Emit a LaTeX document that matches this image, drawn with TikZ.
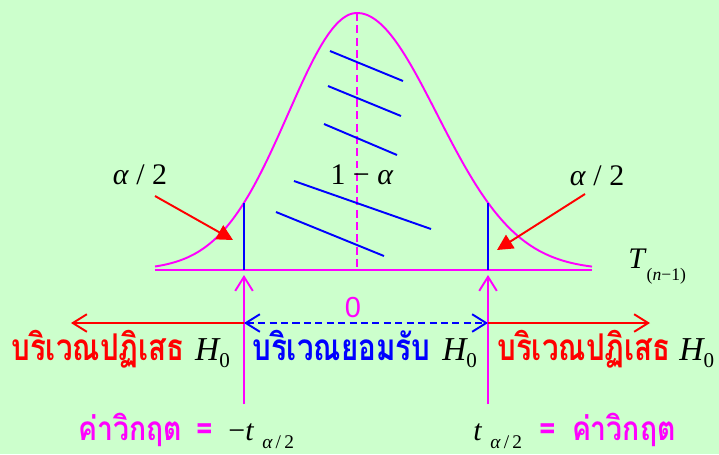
\documentclass[tikz,border=0pt]{standalone}
\usepackage{fontspec}
\setmainfont{Liberation Serif}
\newfontfamily\thaifont[Script=Thai, FakeStretch=0.8]{Loma}
\newfontfamily\thaiwide[Script=Thai, FakeStretch=0.85]{Loma}
\newfontfamily\zerofont{Liberation Sans}
\usetikzlibrary{arrows.meta,positioning}
\definecolor{bggreen}{RGB}{204,255,204}
\definecolor{mag}{RGB}{255,0,255}
\newcommand{\hnull}{{\color{black}\rmfamily\mdseries\fontsize{19}{22}\selectfont\itshape H\raisebox{-4pt}{\upshape\fontsize{12}{12}\selectfont 0}}}
\newcommand{\tcrit}{{\color{black}\rmfamily\mdseries\fontsize{17}{20}\selectfont\itshape t\hspace{5pt}\raisebox{-5pt}{\fontsize{11}{11}\selectfont α\,\upshape/\,2}}}

\begin{document}
\begin{tikzpicture}[
  x=0.02cm, y=-0.02cm,
  curve/.style={mag, line width=1.1pt},
  hatch/.style={blue, line width=1.1pt},
  barb/.style={-{Straight Barb[length=8pt,width=10pt]}, line width=1.1pt},
  both/.style={{Straight Barb[length=8pt,width=10pt]}-{Straight Barb[length=8pt,width=10pt]}, line width=1.1pt},
  fat/.style={red, line width=1.1pt, -{Triangle[length=9pt,width=9pt]}},
  thai/.style={font=\thaifont\bfseries\fontsize{21}{24}\selectfont, inner sep=0pt, anchor=base west},
  crit/.style={font=\thaiwide\bfseries\fontsize{19}{22}\selectfont, text=mag, inner sep=0pt, anchor=base west},
  lbl/.style={font=\fontsize{17}{20}\selectfont, inner sep=0pt}
]
  \fill[bggreen] (0,0) rectangle (719,454);
  \useasboundingbox (0,0) rectangle (719,454);

  \coordinate (peak) at (357,13);
  \coordinate (mid) at (357,270);
  \coordinate (tl) at (244,270);
  \coordinate (tr) at (488,270);
  \coordinate (tltop) at (244,203);
  \coordinate (trtop) at (488,203);

  \draw[curve] plot[domain=155:357, samples=50, smooth] (\x, {270-257*exp(-0.5*((\x-357)/69)^2)})
    -- plot[domain=357:592, samples=50, smooth] (\x, {270-257*exp(-0.5*((\x-357)/80)^2)});
  \draw[curve] (155,270) -- (592,270);
  \draw[curve, dash pattern=on 4.5pt off 2.5pt] (peak) -- (mid);

  \draw[hatch] (tl) -- (tltop);
  \draw[hatch] (tr) -- (trtop);
  \draw[hatch] (330,51) -- (403,81);
  \draw[hatch] (328,86) -- (401,116);
  \draw[hatch] (324,124) -- (397,155);
  \draw[hatch] (294,181) -- (431,229);
  \draw[hatch] (276,212) -- (384,256);

  \node[lbl] (oneminus) at (362,175) {1 − \textit{α}};
  \node[lbl] (halfl) at (140,175) {\textit{α} / 2};
  \node[lbl] (halfr) at (597,176) {\textit{α} / 2};
  \node[lbl, anchor=base west] (tdist) at (628,268)
    {\textit{T}\raisebox{-7pt}{\fontsize{10}{10}\selectfont(\textit{n}−1)}};

  \coordinate (al1) at (155,196);
  \coordinate (al2) at (233,240);
  \coordinate (ar1) at (585,194);
  \coordinate (ar2) at (497,250);
  \draw[fat] (al1) -- (al2);
  \draw[fat] (ar1) -- (ar2);

  \coordinate (cl) at (244,404);
  \coordinate (cr) at (488,404);
  \coordinate (cltip) at (244,275);
  \coordinate (crtip) at (488,275);
  \draw[barb, mag] (cl) -- (cltip);
  \draw[barb, mag] (cr) -- (crtip);

  \node[font=\zerofont\fontsize{16.5}{18}\selectfont, text=mag, inner sep=0pt] (zero) at (353,308) {0};

  \coordinate (al) at (244,323);
  \coordinate (ar) at (488,323);
  \coordinate (rejl) at (71,323);
  \coordinate (rejr) at (650,323);
  \draw[both, blue, dash pattern=on 4pt off 2.5pt] (al) -- (ar);
  \draw[barb, red] (al) -- (rejl);
  \draw[barb, red] (ar) -- (rejr);

  \node[thai] (rejtl) at (11,360) {\textcolor{red}{บริเวณปฏิเสธ}\hspace{6pt}\hnull};
  \node[thai] (acct) at (252,360) {\textcolor{blue}{บริเวณยอมรับ}\hspace{7pt}\hnull};
  \node[thai] (rejtr) at (497,360) {\textcolor{red}{บริเวณปฏิเสธ}\hspace{5pt}\hnull};

  \node[crit] (critl) at (78,440) {ค่าวิกฤต\hspace{8pt}=\hspace{9pt}{\color{black}\rmfamily\mdseries\fontsize{17}{20}\selectfont −}\tcrit};
  \node[crit] (critr) at (473,440) {\tcrit\hspace{10pt}=\hspace{9pt}ค่าวิกฤต};
\end{tikzpicture}
\end{document}
